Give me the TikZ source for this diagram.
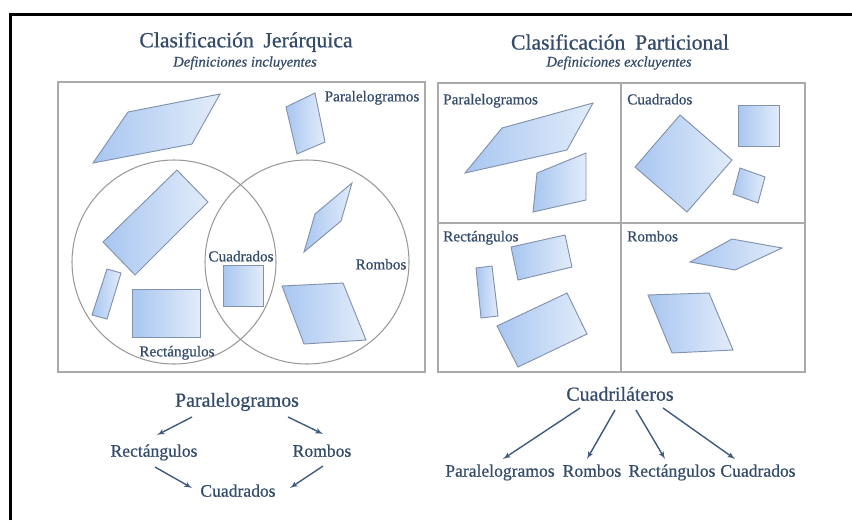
\documentclass[tikz,border=0pt]{standalone}
\usepackage{fontspec}
\setmainfont{Liberation Serif}
\newfontfamily\labelfont{Liberation Serif}[FakeBold=0.7]
\usepackage{tikz}
\usetikzlibrary{shapes,arrows}
\definecolor{inkblue}{RGB}{52,76,106}
\definecolor{arrowblue}{RGB}{62,90,126}
\definecolor{panelgray}{RGB}{170,170,170}
\definecolor{tileedge}{RGB}{128,146,174}
\definecolor{tiledark}{RGB}{168,198,240}
\definecolor{tilelight}{RGB}{226,236,250}
\tikzstyle{heading} = [inkblue, inner sep=0pt, font=\labelfont\fontsize{18.5}{20}\selectfont]
\tikzstyle{subhead} = [inkblue, inner sep=0pt, font=\labelfont\fontsize{12.5}{14}\selectfont\itshape]
\tikzstyle{boxlabel} = [inkblue, inner sep=0pt, text height=0.85em, text depth=0.1em,
    font=\labelfont\fontsize{13}{15}\selectfont]
\tikzstyle{treeroot} = [inkblue, inner sep=0pt, text height=0.9em, text depth=0.1em,
    font=\labelfont\fontsize{17}{19}\selectfont]
\tikzstyle{treelabel} = [inkblue, inner sep=0pt, text height=0.9em, text depth=0.1em,
    font=\labelfont\fontsize{15}{17}\selectfont]
\tikzstyle{panel} = [draw=panelgray, line width=1.1pt]
\tikzstyle{tile} = [draw=tileedge, line width=0.8pt, left color=tiledark, right color=tilelight]
\tikzstyle{link} = [draw=arrowblue, line width=1.2pt, -latex']

\begin{document}
\begin{tikzpicture}[x=0.03cm, y=-0.03cm]
    \useasboundingbox (0,0) rectangle (852,520);
    % Frame
    \draw[line width=2.6pt] (10.5,520) -- (10.5,14.5) -- (852,14.5);

    % Headings
    \node [heading] (titleJ) at (246,42) {Clasificación\hspace{0.45em}Jerárquica};
    \node [subhead] (subJ) at (245,63) {Definiciones incluyentes};
    \node [heading] (titleP) at (620,42) {Clasificación\hspace{0.45em}Particional};
    \node [subhead] (subP) at (619,63) {Definiciones excluyentes};

    % Hierarchical panel
    \draw[panel] (58,82) rectangle (425,372);
    \path[tile] (93,163) -- (128,112) -- (220,94) -- (192,144) -- cycle;
    \path[tile] (286,107) -- (315,93) -- (325,142) -- (297,154) -- cycle;
    \path[tile] (352,183) -- (315,214) -- (304,252) -- (341,221) -- cycle;
    \path[tile] (177,170) -- (208,202) -- (135,275) -- (103,242) -- cycle;
    \path[tile] (107,269) -- (121,273) -- (107,319) -- (92,315) -- cycle;
    \path[tile] (132,289) rectangle (200,337);
    \path[tile] (223,265) rectangle (263,306);
    \path[tile] (282,286) -- (343,283) -- (366,340) -- (304,344) -- cycle;
    \draw[panel, draw=gray!80, line width=0.9pt] (174,262) circle (102);
    \draw[panel, draw=gray!80, line width=0.9pt] (307,262) circle (102);
    \node [boxlabel] (paraJ) at (372,97) {Paralelogramos};
    \node [boxlabel] (cuadJ) at (241,257) {Cuadrados};
    \node [boxlabel] (rombJ) at (381,265) {Rombos};
    \node [boxlabel] (rectJ) at (177,352) {Rectángulos};

    % Partitional panel
    \draw[panel] (438,83) rectangle (805,372);
    \draw[panel] (621,83) -- (621,372);
    \draw[panel] (438,223) -- (805,223);
    \path[tile] (465,173) -- (502,128) -- (593,103) -- (567,150) -- cycle;
    \path[tile] (537,173) -- (586,153) -- (586,200) -- (533,212) -- cycle;
    \path[tile] (680,115) -- (732,160) -- (687,212) -- (635,167) -- cycle;
    \path[tile] (738,105) rectangle (779,146);
    \path[tile] (740,168) -- (765,177) -- (758,203) -- (733,194) -- cycle;
    \path[tile] (511,247) -- (565,235) -- (572,267) -- (518,280) -- cycle;
    \path[tile] (476,268) -- (492,266) -- (498,316) -- (481,318) -- cycle;
    \path[tile] (497,326) -- (567,293) -- (587,334) -- (518,367) -- cycle;
    \path[tile] (690,262) -- (732,239) -- (782,248) -- (735,270) -- cycle;
    \path[tile] (648,295) -- (709,293) -- (733,350) -- (672,353) -- cycle;
    \node [boxlabel, anchor=west] (paraP) at (443,100) {Paralelogramos};
    \node [boxlabel, anchor=west] (cuadP) at (627,100) {Cuadrados};
    \node [boxlabel, anchor=west] (rectP) at (443,237) {Rectángulos};
    \node [boxlabel, anchor=west] (rombP) at (627,237) {Rombos};

    % Hierarchical tree
    \node [treeroot] (paraH) at (237,402) {Paralelogramos};
    \node [treelabel] (rectH) at (154,452) {Rectángulos};
    \node [treelabel] (rombH) at (322,452) {Rombos};
    \node [treelabel] (cuadH) at (238,492) {Cuadrados};
    \path [link] ([shift={(-45,15)}]paraH.center) -- ([shift={(3,-17)}]rectH.center);
    \path [link] ([shift={(51,15)}]paraH.center) -- ([shift={(1,-18)}]rombH.center);
    \path [link] ([shift={(1,15)}]rectH.center) -- ([shift={(-46,-4)}]cuadH.center);
    \path [link] ([shift={(1,14)}]rombH.center) -- ([shift={(52,-4)}]cuadH.center);

    % Partitional tree
    \node [treeroot] (quadT) at (620,396) {Cuadriláteros};
    \node [treelabel] (paraT) at (500,472) {Paralelogramos};
    \node [treelabel] (rombT) at (592,472) {Rombos};
    \node [treelabel] (rectT) at (672,472) {Rectángulos};
    \node [treelabel] (cuadT) at (758,472) {Cuadrados};
    \path [link] ([shift={(-40,12)}]quadT.center) -- ([shift={(3,-13)}]paraT.center);
    \path [link] ([shift={(-5,14)}]quadT.center) -- ([shift={(-5,-13)}]rombT.center);
    \path [link] ([shift={(16,14)}]quadT.center) -- ([shift={(-7,-13)}]rectT.center);
    \path [link] ([shift={(43,12)}]quadT.center) -- ([shift={(-23,-13)}]cuadT.center);
\end{tikzpicture}
\end{document}
